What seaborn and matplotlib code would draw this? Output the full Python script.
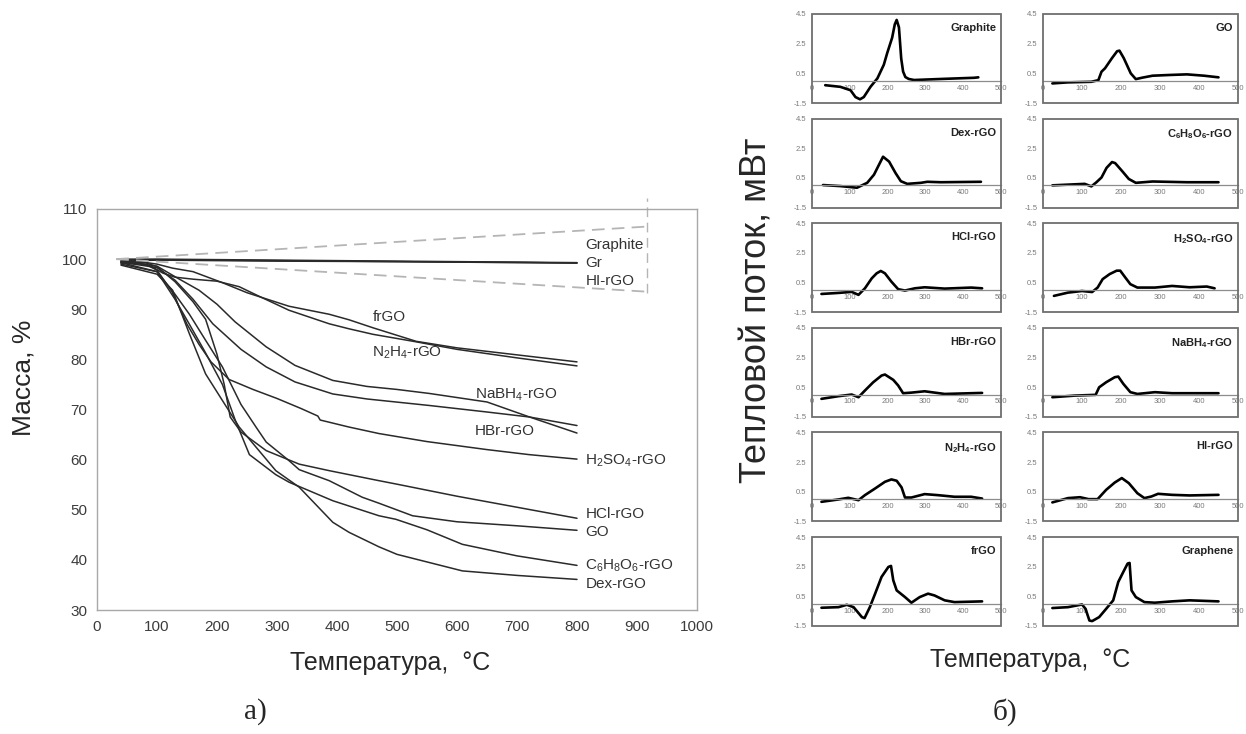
import matplotlib
matplotlib.use("Agg")
import numpy as np
import pandas as pd
import seaborn as sns
import matplotlib.pyplot as plt
from matplotlib.patches import Rectangle

# ---------------- TGA data (panel a) ----------------
tga_T_graphite = [38, 100, 200, 300, 400, 500, 600, 700, 800]
tga_M_graphite = [100.0, 100.0, 99.9, 99.8, 99.7, 99.6, 99.5, 99.4, 99.3]
tga_T_gr = [40, 100, 200, 300, 400, 500, 600, 700, 800]
tga_M_gr = [99.8, 99.9, 99.8, 99.7, 99.6, 99.5, 99.4, 99.35, 99.2]
tga_T_hi = [42, 100, 200, 300, 400, 500, 600, 700, 800]
tga_M_hi = [99.6, 99.8, 99.7, 99.6, 99.55, 99.5, 99.4, 99.3, 99.25]

tga_T_frgo = [40, 60, 100, 126, 160, 209, 250, 320, 387, 420, 460, 532, 600, 700, 800]
tga_M_frgo = [99.6, 99.7, 99.0, 98.2, 97.5, 95.3, 93.3, 90.6, 89.0, 87.9, 86.3, 83.6, 82.3, 80.9, 79.5]

tga_T_n2h4 = [40, 60, 90, 110, 130, 160, 200, 237, 270, 320, 387, 420, 460, 532, 600, 700, 800]
tga_M_n2h4 = [99.3, 99.5, 98.6, 97.2, 96.4, 96.0, 95.6, 94.5, 92.6, 89.8, 87.1, 86.1, 85.0, 83.5, 82.0, 80.3, 78.7]

tga_T_nabh4 = [40, 100, 130, 170, 200, 230, 282, 330, 393, 450, 500, 554, 650, 721, 800]
tga_M_nabh4 = [99.6, 98.6, 96.5, 93.8, 91.0, 87.5, 82.5, 78.8, 75.8, 74.6, 74.0, 73.2, 71.5, 68.5, 65.3]

tga_T_hbr = [40, 100, 130, 160, 193, 240, 282, 330, 393, 450, 554, 650, 721, 800]
tga_M_hbr = [99.4, 98.3, 95.8, 92.0, 87.1, 82.0, 78.5, 75.5, 73.1, 72.1, 70.8, 69.5, 68.5, 66.8]

tga_T_h2so4 = [40, 80, 100, 125, 150, 170, 190, 220, 260, 300, 340, 368, 372, 420, 470, 550, 650, 720, 800]
tga_M_h2so4 = [99.2, 99.0, 97.8, 93.5, 87.0, 83.0, 79.5, 76.0, 74.0, 72.2, 70.2, 68.7, 67.9, 66.5, 65.2, 63.6, 62.0, 61.0, 60.1]

tga_T_hcl = [40, 80, 100, 130, 160, 181, 200, 212, 222, 240, 282, 337, 387, 470, 500, 600, 700, 800]
tga_M_hcl = [99.5, 99.3, 98.5, 95.5, 91.5, 88.0, 81.0, 75.0, 68.5, 65.5, 61.8, 59.1, 57.8, 55.8, 55.1, 52.7, 50.5, 48.3]

tga_T_go = [40, 100, 130, 154, 180, 209, 240, 265, 282, 320, 337, 387, 442, 470, 526, 600, 700, 800]
tga_M_go = [99.0, 97.5, 93.0, 89.0, 84.0, 78.5, 71.0, 66.5, 63.5, 59.8, 58.0, 55.8, 52.5, 51.3, 48.8, 47.6, 46.8, 45.9]

tga_T_asc = [40, 100, 130, 154, 180, 209, 230, 254, 298, 320, 393, 470, 498, 550, 609, 700, 800]
tga_M_asc = [99.3, 97.5, 92.0, 87.0, 81.5, 75.0, 68.0, 61.0, 57.0, 55.5, 51.8, 48.8, 48.1, 46.0, 43.1, 40.8, 38.9]

tga_T_dex = [40, 100, 126, 154, 181, 209, 237, 265, 298, 337, 393, 420, 470, 500, 609, 700, 800]
tga_M_dex = [98.8, 97.0, 93.8, 85.1, 77.1, 71.8, 66.5, 62.5, 57.8, 54.5, 47.5, 45.5, 42.6, 41.1, 37.8, 36.9, 36.1]

tga_series = [
    (tga_T_graphite, tga_M_graphite), (tga_T_gr, tga_M_gr), (tga_T_hi, tga_M_hi),
    (tga_T_frgo, tga_M_frgo), (tga_T_n2h4, tga_M_n2h4), (tga_T_nabh4, tga_M_nabh4),
    (tga_T_hbr, tga_M_hbr), (tga_T_h2so4, tga_M_h2so4), (tga_T_hcl, tga_M_hcl),
    (tga_T_go, tga_M_go), (tga_T_asc, tga_M_asc), (tga_T_dex, tga_M_dex),
]

tga_labels = ["Graphite", "Gr", "HI-rGO", "frGO", "N$_2$H$_4$-rGO", "NaBH$_4$-rGO", "HBr-rGO",
              "H$_2$SO$_4$-rGO", "HCl-rGO", "GO", "C$_6$H$_8$O$_6$-rGO", "Dex-rGO"]
tga_label_T = [814, 814, 814, 459, 459, 630, 630, 814, 814, 814, 814, 814]
tga_label_M = [102.8, 99.3, 95.7, 88.5, 81.3, 73.0, 65.8, 59.7, 49.1, 45.6, 38.9, 35.2]

# zoom wedge around overlapping curves
wedge_T = [32, 917]
wedge_upper = [100, 106.5]
wedge_lower = [100, 93.5]
wedge_vert_M = [93.2, 112.2]

# ---------------- DSC data (panel б) ----------------
dsc_names = ["Graphite", "GO", "Dex-rGO", "C$_6$H$_8$O$_6$-rGO", "HCl-rGO", "H$_2$SO$_4$-rGO",
             "HBr-rGO", "NaBH$_4$-rGO", "N$_2$H$_4$-rGO", "HI-rGO", "frGO", "Graphene"]

dsc_T_graphite = [35, 75, 102, 115, 127, 137, 155, 173, 190, 199, 212, 219, 224, 230, 236, 241, 247, 256, 270, 341, 429, 440]
dsc_Q_graphite = [-0.3, -0.41, -0.64, -1.1, -1.25, -1.1, -0.4, 0.16, 1.08, 1.87, 2.9, 3.8, 4.1, 3.6, 1.5, 0.62, 0.25, 0.12, 0.05, 0.12, 0.2, 0.23]
dsc_T_go = [24, 63, 124, 142, 150, 159, 177, 190, 196, 207, 225, 238, 255, 281, 325, 369, 413, 450]
dsc_Q_go = [-0.18, -0.11, -0.07, 0.04, 0.61, 0.84, 1.53, 1.99, 2.03, 1.53, 0.5, 0.11, 0.21, 0.34, 0.39, 0.43, 0.34, 0.23]
dsc_T_dex = [29, 75, 119, 146, 164, 177, 188, 204, 221, 235, 252, 288, 305, 341, 447]
dsc_Q_dex = [0.02, -0.05, -0.16, 0.17, 0.72, 1.38, 1.93, 1.6, 0.83, 0.28, 0.1, 0.17, 0.24, 0.21, 0.24]
dsc_T_asc = [24, 107, 124, 137, 150, 163, 177, 185, 203, 220, 238, 281, 369, 450]
dsc_Q_asc = [0.0, 0.1, -0.07, 0.21, 0.53, 1.18, 1.57, 1.5, 0.96, 0.43, 0.17, 0.26, 0.21, 0.21]
dsc_T_hcl = [25, 70, 105, 123, 140, 158, 171, 182, 193, 210, 228, 246, 272, 298, 351, 421, 450]
dsc_Q_hcl = [-0.27, -0.2, -0.13, -0.33, 0.11, 0.78, 1.12, 1.28, 1.12, 0.56, 0.05, -0.04, 0.11, 0.18, 0.09, 0.16, 0.11]
dsc_T_h2so4 = [28, 64, 100, 126, 140, 153, 171, 189, 198, 211, 224, 242, 287, 331, 376, 420, 440]
dsc_Q_h2so4 = [-0.4, -0.18, -0.07, -0.14, 0.16, 0.73, 1.07, 1.3, 1.3, 0.84, 0.39, 0.16, 0.16, 0.27, 0.18, 0.23, 0.11]
dsc_T_hbr = [25, 70, 105, 123, 140, 162, 184, 193, 215, 228, 241, 263, 298, 351, 421, 450]
dsc_Q_hbr = [-0.29, -0.11, 0.0, -0.18, 0.27, 0.83, 1.28, 1.35, 0.99, 0.61, 0.09, 0.13, 0.22, 0.04, 0.09, 0.11]
dsc_T_nabh4 = [24, 82, 135, 144, 162, 184, 193, 206, 224, 242, 287, 331, 450]
dsc_Q_nabh4 = [-0.18, -0.07, -0.02, 0.49, 0.83, 1.17, 1.21, 0.72, 0.16, 0.04, 0.16, 0.09, 0.09]
dsc_T_n2h4 = [25, 70, 96, 123, 140, 167, 193, 210, 224, 237, 246, 263, 298, 333, 377, 421, 450]
dsc_Q_n2h4 = [-0.18, -0.02, 0.09, -0.07, 0.27, 0.72, 1.17, 1.33, 1.24, 0.79, 0.11, 0.11, 0.34, 0.27, 0.16, 0.16, 0.04]
dsc_T_hi = [24, 64, 95, 117, 140, 162, 184, 202, 220, 242, 260, 278, 295, 331, 376, 450]
dsc_Q_hi = [-0.22, 0.07, 0.13, 0.0, 0.0, 0.63, 1.12, 1.42, 1.08, 0.4, 0.07, 0.18, 0.36, 0.29, 0.25, 0.29]
dsc_T_frgo = [25, 70, 92, 110, 132, 139, 153, 167, 184, 202, 209, 215, 224, 246, 263, 285, 307, 324, 351, 377, 450]
dsc_Q_frgo = [-0.27, -0.23, -0.07, -0.23, -0.9, -0.97, -0.23, 0.68, 1.81, 2.48, 2.55, 1.58, 0.9, 0.45, 0.07, 0.45, 0.68, 0.56, 0.23, 0.11, 0.16]
dsc_T_graphene = [24, 64, 100, 109, 119, 126, 144, 162, 180, 193, 206, 217, 222, 227, 238, 260, 287, 331, 376, 450]
dsc_Q_graphene = [-0.29, -0.23, -0.05, -0.34, -1.13, -1.17, -0.9, -0.34, 0.23, 1.47, 2.15, 2.71, 2.75, 0.9, 0.45, 0.11, 0.07, 0.16, 0.23, 0.16]

dsc_series = [
    (dsc_T_graphite, dsc_Q_graphite), (dsc_T_go, dsc_Q_go),
    (dsc_T_dex, dsc_Q_dex), (dsc_T_asc, dsc_Q_asc),
    (dsc_T_hcl, dsc_Q_hcl), (dsc_T_h2so4, dsc_Q_h2so4),
    (dsc_T_hbr, dsc_Q_hbr), (dsc_T_nabh4, dsc_Q_nabh4),
    (dsc_T_n2h4, dsc_Q_n2h4), (dsc_T_hi, dsc_Q_hi),
    (dsc_T_frgo, dsc_Q_frgo), (dsc_T_graphene, dsc_Q_graphene),
]
dsc_xticks = [0, 100, 200, 300, 400, 500]
dsc_yticks = [-1.5, 0.5, 2.5, 4.5]
dsc_yticklabels = ["-1.5", "0.5", "2.5", "4.5"]

# ---------------- style ----------------
sns.set_style("white")
plt.rcParams["font.family"] = ["Liberation Sans", "DejaVu Sans"]
plt.rcParams["mathtext.fontset"] = "custom"
plt.rcParams["mathtext.rm"] = "Liberation Sans"
plt.rcParams["mathtext.default"] = "regular"

W, H = 1246, 734
fig = plt.figure(figsize=(W / 100, H / 100), dpi=100)
fig.patch.set_facecolor("white")

# ---------------- panel a ----------------
ax = fig.add_axes([97 / W, (H - 610) / H, 600 / W, 401 / H])
for T, M in tga_series:
    df = pd.DataFrame({"T": T, "M": M})
    sns.lineplot(data=df, x="T", y="M", ax=ax, color="#2a2a2a", lw=1.1,
                 estimator=None, sort=False, legend=False)

dash = (0, (7, 4))
ax.plot(wedge_T, wedge_upper, ls=dash, color="#b5b5b5", lw=1.3)
ax.plot(wedge_T, wedge_lower, ls=dash, color="#b5b5b5", lw=1.3)
ax.plot([wedge_T[1], wedge_T[1]], wedge_vert_M, ls=dash, color="#b5b5b5", lw=1.0, clip_on=False)

for lab, t, m in zip(tga_labels, tga_label_T, tga_label_M):
    ax.text(t, m, lab, fontsize=11, color="#333333", ha="left", va="center")

ax.set_xlim(0, 1000)
ax.set_ylim(30, 110)
ax.set_xticks(np.arange(0, 1001, 100))
ax.set_yticks(np.arange(30, 111, 10))
for s in ax.spines.values():
    s.set_color("#a8a8a8")
    s.set_linewidth(1.0)
ax.tick_params(direction="out", length=4, width=1, color="#a8a8a8",
               labelsize=11, labelcolor="#3c3c3c", pad=3)
ax.set_xlabel("")
ax.set_ylabel("")

fig.text(390 / W, 1 - 663 / H, "Температура,  °C", ha="center", va="center", fontsize=18)
fig.text(24 / W, 1 - 378 / H, "Масса, %", rotation=90, ha="center", va="center", fontsize=19)
fig.text(255 / W, 1 - 712 / H, "а)", ha="center", va="center", fontsize=21,
         family=["Liberation Serif", "DejaVu Serif"])

# ---------------- panel б ----------------
col_x = [812, 1043]
col_w = [189, 195]
row_top0 = 14
row_pitch = 104.6
row_h = 89

for i, ((T, Q), name) in enumerate(zip(dsc_series, dsc_names)):
    r, c = divmod(i, 2)
    top = row_top0 + r * row_pitch
    a = fig.add_axes([col_x[c] / W, (H - top - row_h) / H, col_w[c] / W, row_h / H])
    df = pd.DataFrame({"T": T, "Q": Q})
    sns.lineplot(data=df, x="T", y="Q", ax=a, color="black", lw=1.9,
                 estimator=None, sort=False, legend=False)
    a.set_xlim(0, 500)
    a.set_ylim(-1.5, 4.5)
    a.set_xticks(dsc_xticks)
    a.set_yticks(dsc_yticks)
    a.set_yticklabels(dsc_yticklabels)
    for k in ["top", "right", "left"]:
        a.spines[k].set_visible(False)
    a.spines["bottom"].set_position(("data", 0))
    a.spines["bottom"].set_color("#8c8c8c")
    a.spines["bottom"].set_linewidth(0.9)
    a.add_patch(Rectangle((0, 0), 1, 1, transform=a.transAxes, fill=False,
                          ec="#6e6e6e", lw=1.3, clip_on=False, zorder=5))
    a.tick_params(axis="both", labelsize=5.5, labelcolor="#7a7a7a", color="#8c8c8c",
                  width=0.7, length=2.5, pad=1.5)
    a.tick_params(axis="x", direction="inout")
    a.set_xlabel("")
    a.set_ylabel("")
    a.text(0.975, 0.9, name, transform=a.transAxes, ha="right", va="top",
           fontsize=8, fontweight="bold", color="#222222")

fig.text(757 / W, 1 - 310 / H, "Тепловой поток, мВт", rotation=90, ha="center",
         va="center", fontsize=26)
fig.text(1030 / W, 1 - 660 / H, "Температура,  °C", ha="center", va="center", fontsize=18)
fig.text(1005 / W, 1 - 712 / H, "б)", ha="center", va="center", fontsize=21,
         family=["Liberation Serif", "DejaVu Serif"])

fig.savefig("out.png", dpi=100, facecolor="white")
